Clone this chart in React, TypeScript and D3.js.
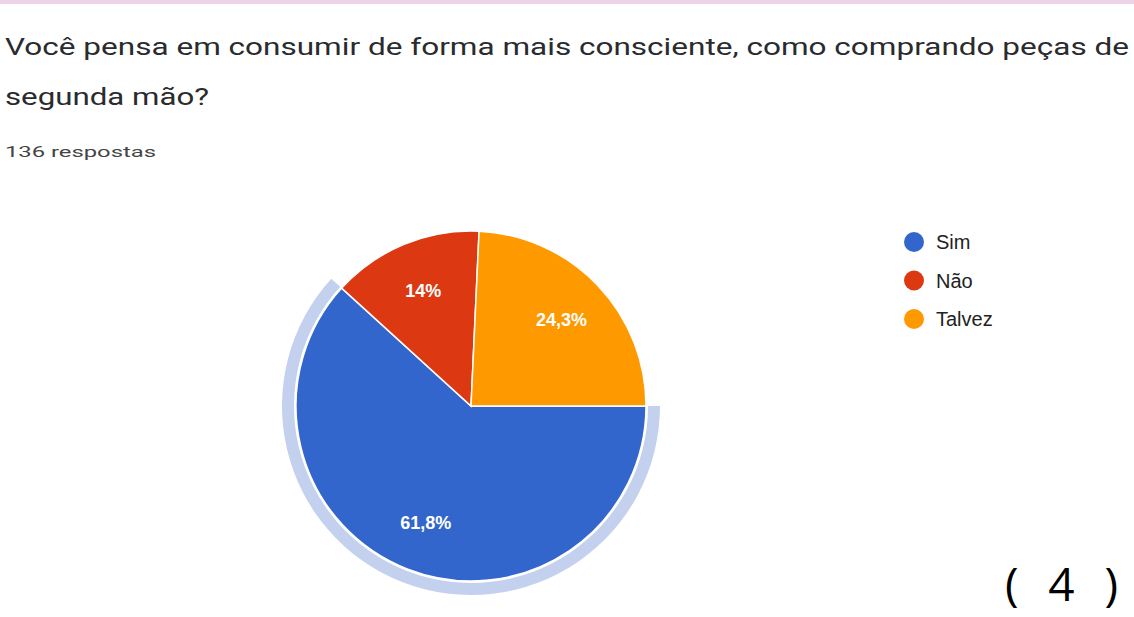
import React from 'react';
import * as d3 from 'd3';

const categories = ['Sim', 'Não', 'Talvez'];
const counts = [84, 19, 33];
const percentLabels = ['61,8%', '14%', '24,3%'];
const colors = ['#3366cc', '#dc3912', '#ff9900'];
const titleLines = [
  'Você pensa em consumir de forma mais consciente, como comprando peças de',
  'segunda mão?',
];
const responsesLabel = '136 respostas';

const W = 1134, H = 617;

export default function App() {
  const cx = 471, cy = 406, r = 175;

  const pie = d3.pie<number>()
    .sort(null)
    .startAngle(Math.PI / 2)
    .endAngle(Math.PI / 2 + 2 * Math.PI)
    .value(d => d);
  const arcs = pie(counts);

  const arc = d3.arc<d3.PieArcDatum<number>>().innerRadius(0).outerRadius(r);
  const labelArc = d3.arc<d3.PieArcDatum<number>>().innerRadius(0).outerRadius(250);
  // highlight ring around the selected slice (Sim)
  const ring = d3.arc<d3.PieArcDatum<number>>().innerRadius(r + 2).outerRadius(r + 14);

  return (
    <svg width={W} height={H} style={{position: 'absolute', left: 0, top: 0, background: '#fff'}}>
      <rect x={0} y={0} width={W} height={4} fill="#edd3ea" />

      <g fontFamily="Roboto, 'Open Sans', Arial, sans-serif" fill="#2a2b2e">
        <text x={5} y={55} fontSize={23} textLength={1124} lengthAdjust="spacingAndGlyphs">{titleLines[0]}</text>
        <text x={5} y={105} fontSize={23} textLength={204} lengthAdjust="spacingAndGlyphs">{titleLines[1]}</text>
        <text x={5} y={157} fontSize={15} fill="#444" textLength={151} lengthAdjust="spacingAndGlyphs">{responsesLabel}</text>
      </g>

      <g transform={'translate(' + cx + ',' + cy + ')'}>
        <path d={ring(arcs[0]) || ''} fill="#c3d1ef" />
        {arcs.map((a, i) => (
          <path key={categories[i]} d={arc(a) || ''} fill={colors[i]} stroke="#fff" strokeWidth={1.5} />
        ))}
        {arcs.map((a, i) => {
          const [lx, ly] = labelArc.centroid(a);
          return (
            <text key={'l' + i} x={lx} y={ly} dy="0.35em" textAnchor="middle" fill="#fff"
              fontFamily="Arial, 'Liberation Sans', sans-serif" fontSize={18} fontWeight="bold">
              {percentLabels[i]}
            </text>
          );
        })}
      </g>

      <g fontFamily="Arial, 'Liberation Sans', sans-serif" fontSize={20} fill="#222">
        {categories.map((c, i) => (
          <g key={c} transform={'translate(914,' + (242 + i * 38.5) + ')'}>
            <circle r={10} fill={colors[i]} />
            <text x={22} dy="0.36em">{c}</text>
          </g>
        ))}
      </g>

      <text x={1005} y={601} fontFamily="'Open Sans', 'DejaVu Sans', sans-serif"
        fontSize={46} fill="#000" textLength={113} lengthAdjust="spacing">( 4 )</text>
    </svg>
  );
}
